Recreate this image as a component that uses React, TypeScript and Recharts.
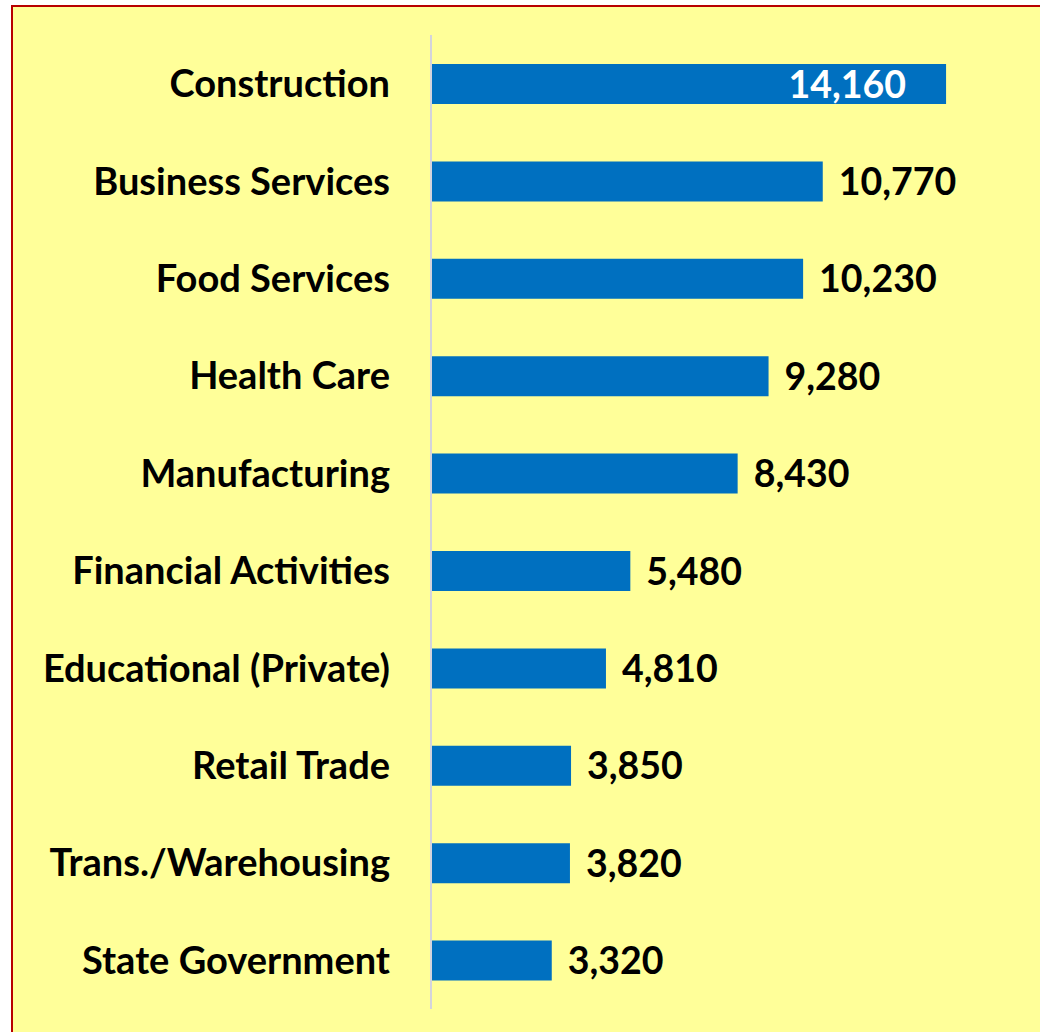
import React from 'react';
import { BarChart, Bar, XAxis, YAxis, LabelList } from 'recharts';

const industries = [
  'Construction',
  'Business Services',
  'Food Services',
  'Health Care',
  'Manufacturing',
  'Financial Activities',
  'Educational (Private)',
  'Retail Trade',
  'Trans./Warehousing',
  'State Government',
];

const jobs = [14160, 10770, 10230, 9280, 8430, 5480, 4810, 3850, 3820, 3320];

const chartData = industries.map((name, i) => ({ name, jobs: jobs[i] }));

const FONT = 'Lato, "Open Sans", sans-serif';
const BAR_BLUE = '#0070C0';

const fmt = (v: number) => v.toLocaleString('en-US');

// the biggest bar keeps its number inside, in white; the rest sit right of the bar
const renderValue = (props: any) => {
  const { x, y, width, height, value, index } = props;
  const cy = y + height / 2;
  const inside = index === 0;
  return (
    <text
      x={inside ? x + width - 40 : x + width + 16}
      y={cy}
      dy="0.36em"
      textAnchor={inside ? 'end' : 'start'}
      fill={inside ? '#fff' : '#000'}
      fontFamily={FONT}
      fontWeight={700}
      fontSize={37.5}
    >
      {fmt(value)}
    </text>
  );
};

export default function App() {
  return (
    <div style={{
      position: 'absolute', left: 11, top: 5, width: 1040, height: 1040,
      border: '2px solid #B80000', background: '#FFFF99', overflow: 'hidden',
    }}>
      <BarChart
        width={1027}
        height={1025}
        data={chartData}
        layout="vertical"
        margin={{ top: 28, right: 27, bottom: 23, left: 0 }}
        barSize={40}
      >
        <XAxis type="number" domain={[0, 16000]} hide />
        <YAxis
          type="category"
          dataKey="name"
          width={418}
          tickLine={false}
          tickSize={0}
          tickMargin={41}
          axisLine={{ stroke: '#D4D4DC', strokeWidth: 2 }}
          tick={{ fill: '#000', fontFamily: FONT, fontWeight: 700, fontSize: 38 }}
        />
        <Bar dataKey="jobs" fill={BAR_BLUE} isAnimationActive={false}>
          <LabelList dataKey="jobs" content={renderValue} />
        </Bar>
      </BarChart>
    </div>
  );
}
